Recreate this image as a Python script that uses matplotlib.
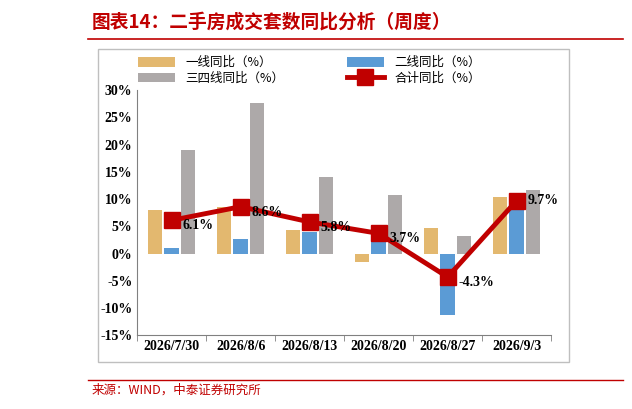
import numpy as np
import matplotlib.pyplot as plt
from matplotlib.patches import Rectangle
from matplotlib.lines import Line2D

plt.rcParams['font.family'] = ['Noto Sans CJK SC', 'DejaVu Sans']

dates = ['2026/7/30', '2026/8/6', '2026/8/13', '2026/8/20', '2026/8/27', '2026/9/3']
tier1 = [7.9, 8.5, 4.3, -1.5, 4.7, 10.4]
tier2 = [1.1, 2.7, 3.9, 2.8, -11.3, 9.0]
tier34 = [19.0, 27.7, 14.0, 10.8, 3.2, 11.6]
total = [6.1, 8.6, 5.8, 3.7, -4.3, 9.7]

c1, c2, c3, cr = '#E3B86F', '#5B9BD5', '#ADA9A9', '#C00000'

fig = plt.figure(figsize=(6.32, 4.09), dpi=100)
fig.text(0.145, 0.945, '图表14：二手房成交套数同比分析（周度）', color=cr, fontsize=13.5,
         fontweight='bold', style='italic', va='center')
fig.add_artist(Line2D([0.14, 0.985], [0.905, 0.905], color=cr, lw=1.2))
fig.add_artist(Rectangle((0.155, 0.115), 0.745, 0.765, fill=False, ec='#BFBFBF', lw=1))
fig.text(0.145, 0.045, '来源：WIND，中泰证券研究所', color=cr, fontsize=9, va='center')
fig.add_artist(Line2D([0.14, 0.985], [0.072, 0.072], color=cr, lw=1.0))

ax = fig.add_axes([0.217, 0.18, 0.655, 0.6])
x = np.arange(len(dates))
w = 0.24
ax.bar(x - w, tier1, w * 0.88, color=c1, label='一线同比（%）')
ax.bar(x, tier2, w * 0.88, color=c2, label='二线同比（%）')
ax.bar(x + w, tier34, w * 0.88, color=c3, label='三四线同比（%）')
ax.plot(x, total, color=cr, lw=3.5, marker='s', ms=11, label='合计同比（%）')
for xi, v in zip(x, total):
    ax.text(xi + 0.16, v - 1.0 if v < 9 else v, f'{v}%', fontsize=10, fontweight='bold',
            family='Liberation Serif', va='center')

ax.set_ylim(-15, 30)
ax.set_xlim(-0.5, 5.5)
ax.set_yticks(range(-15, 31, 5))
ax.set_yticklabels([f'{t}%' for t in range(-15, 31, 5)])
ax.set_xticks(x)
ax.set_xticklabels(dates)
for t in ax.get_xticklabels() + ax.get_yticklabels():
    t.set_fontfamily('Liberation Serif')
    t.set_fontweight('bold')
    t.set_fontsize(10)
ax.set_xticks(np.arange(-0.5, 6, 1), minor=True)
ax.tick_params(axis='x', which='major', length=0)
ax.tick_params(axis='x', which='minor', length=4, color='#808080')
ax.tick_params(axis='y', length=0)
for s in ['top', 'right']:
    ax.spines[s].set_visible(False)
for s in ['left', 'bottom']:
    ax.spines[s].set_color('#808080')

h, l = ax.get_legend_handles_labels()
order = [1, 3, 2, 0]
fig.legend([h[i] for i in order], [l[i] for i in order], ncol=2, loc='upper left',
           bbox_to_anchor=(0.2, 0.89), frameon=False, fontsize=9, columnspacing=5,
           handlelength=3, handleheight=0.8, labelspacing=0.2)

fig.savefig('out.png', dpi=100)
